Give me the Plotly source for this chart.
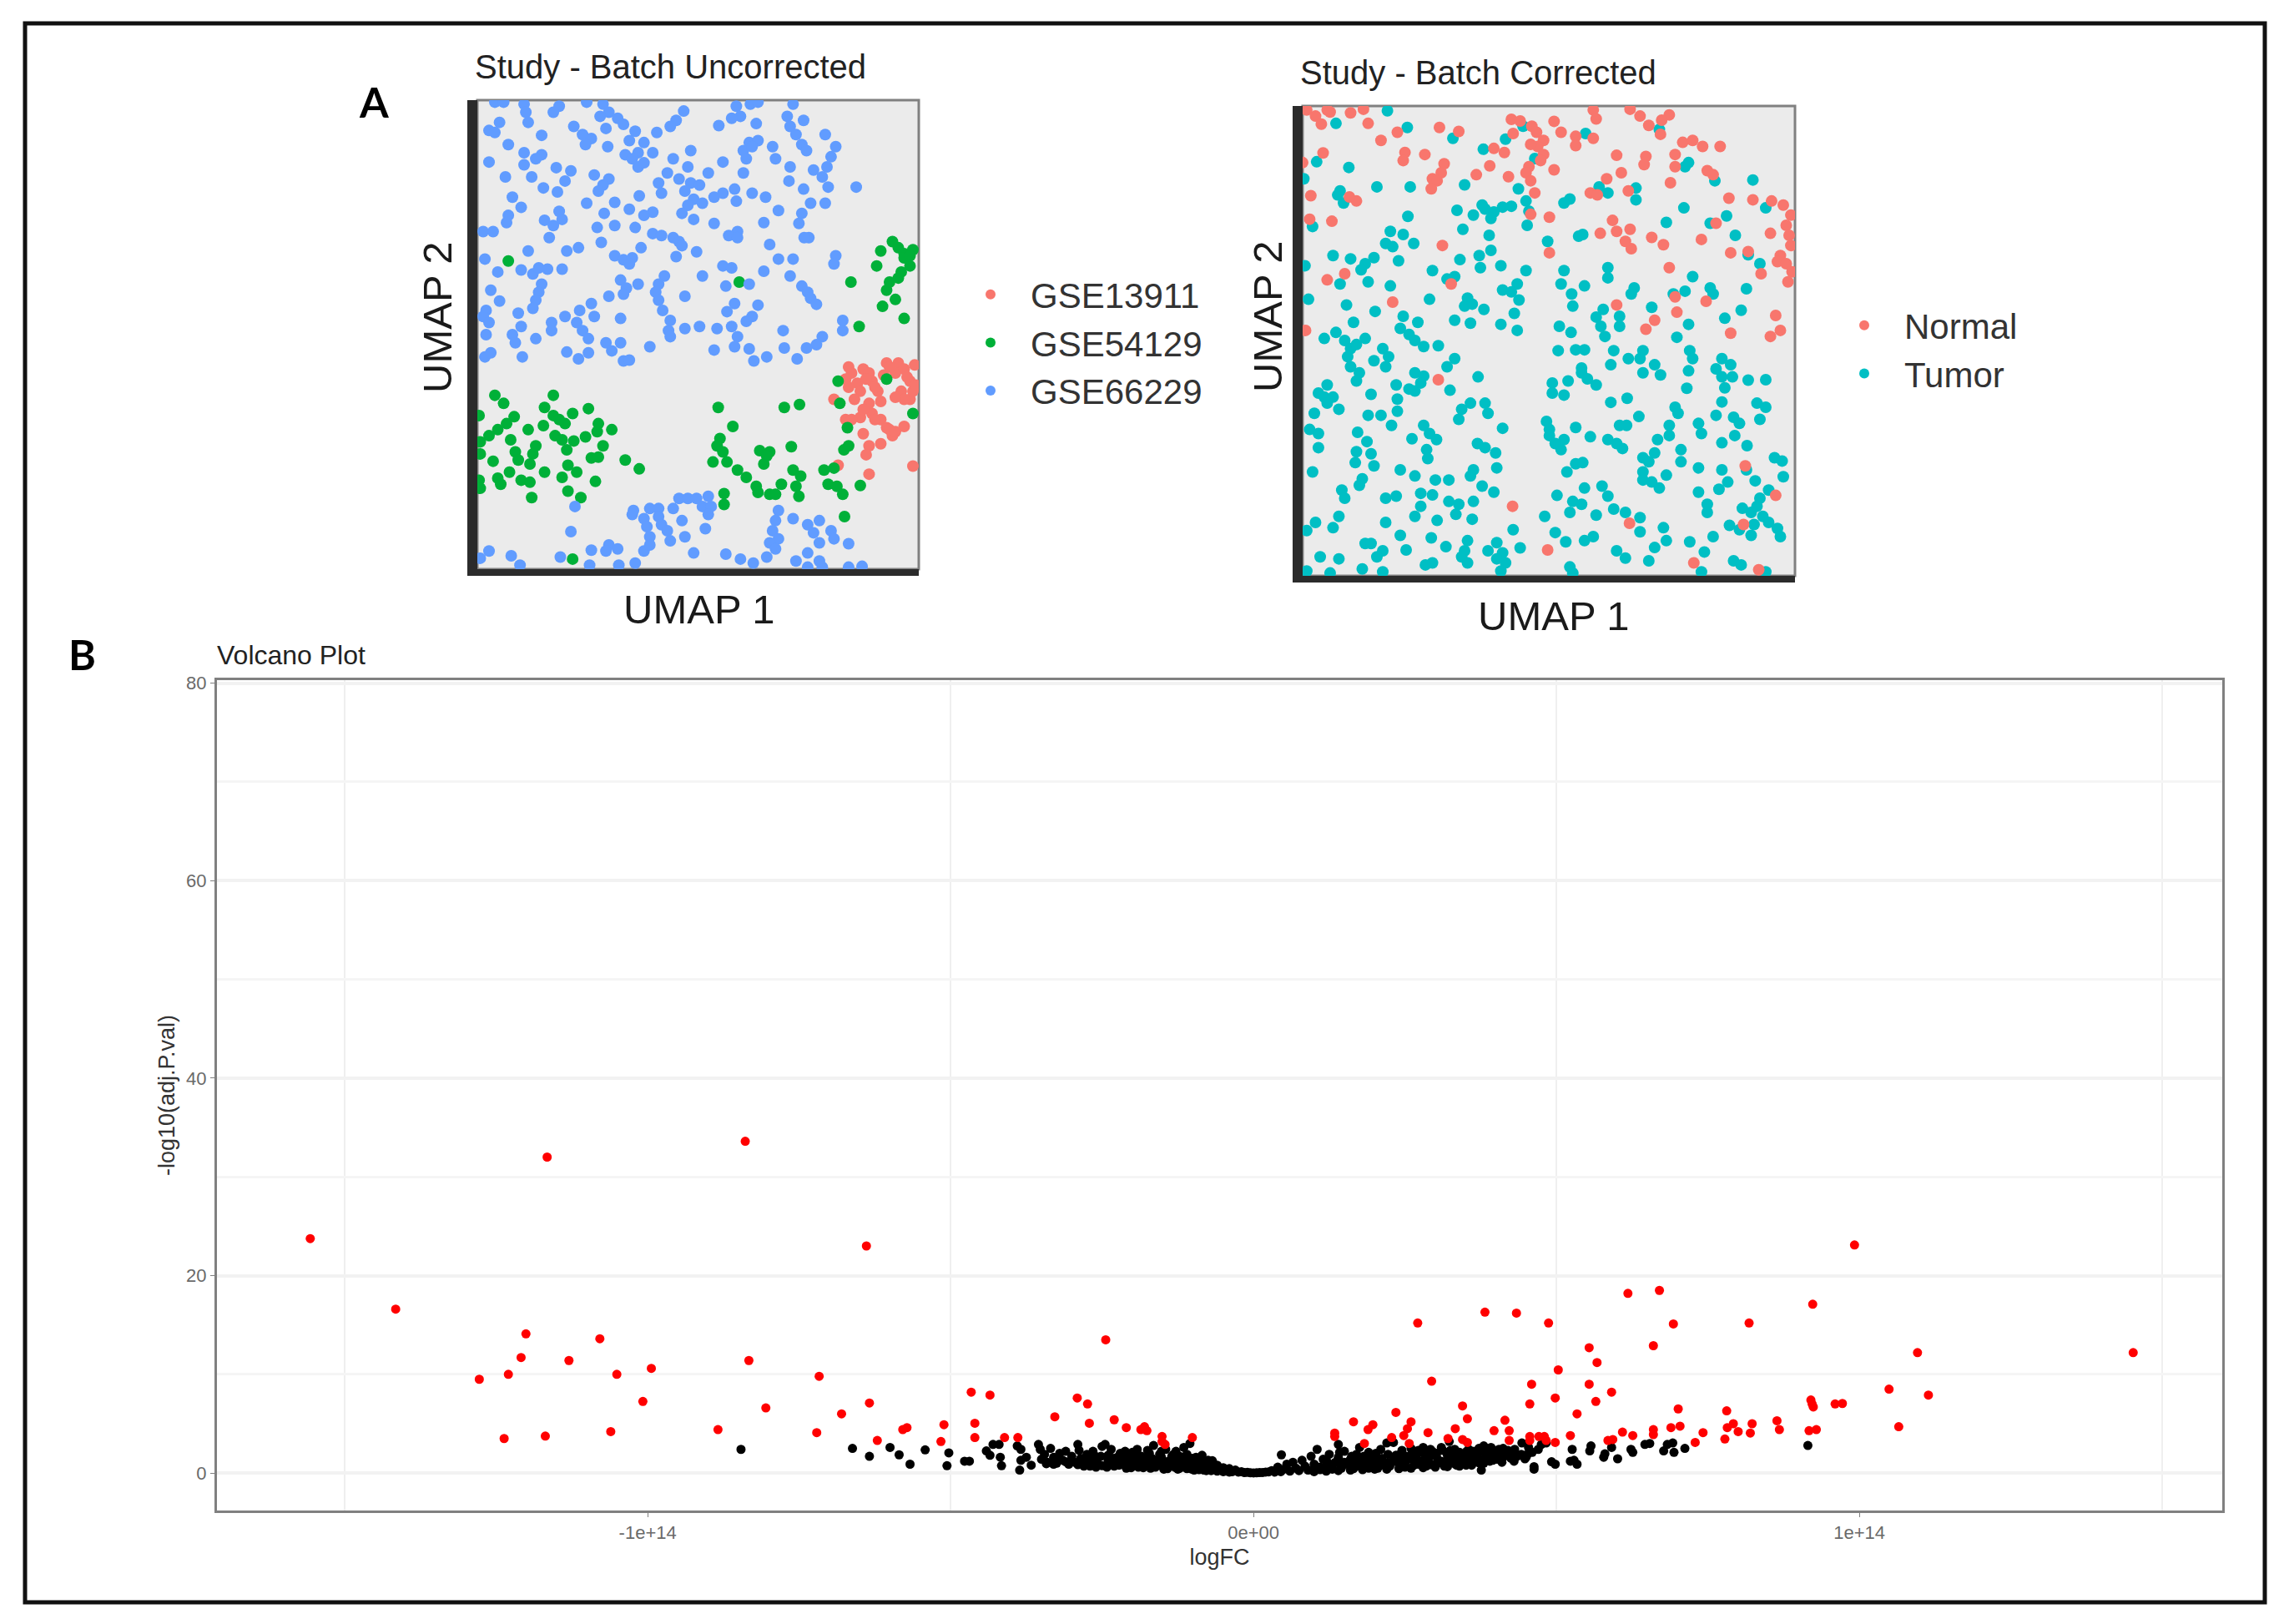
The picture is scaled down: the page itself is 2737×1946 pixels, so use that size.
import plotly.graph_objects as go

W, H = 2737, 1946

gse66229 = [(275,190),(290,190),(325,195),(328,215),(332,240),(385,200),(375,215),(432,190),(460,195),(470,215),(455,225),(485,230),(495,245),(465,255),(598,212),(585,235),(575,250),(552,265),(515,262),(505,285),(688,200),(712,195),(695,225),(680,230),(725,190),(722,243),(658,248),(785,195),(775,225),(803,235),(780,250),(790,270),(800,295),(808,310),(840,270),(858,300),(850,325),(843,350),(820,358),(835,375),(845,400),(893,400),(803,405),(815,440),(840,440),(800,465),(795,490),(812,525),(804,525),
(265,260),(283,240),(275,265),(355,272),(298,295),(410,250),(425,270),(440,280),(430,295),(468,300),(530,290),(520,315),(498,320),(510,330),(520,350),(530,340),(545,315),(610,310),(580,330),(605,350),(665,338),(700,310),(710,290),(725,285),(715,300),(705,330),(700,365),(750,300),(755,330),(780,350),(778,385),(265,338),(325,315),(355,320),(345,330),(325,345),(380,352),(405,360),(395,385),(293,375),(338,375),(358,402),(382,412),(445,370),(470,380),(460,395),(452,410),(570,365),(590,380),(555,390),(560,415),(640,365),(610,390),(625,395),(600,410),(615,430),(605,445),(630,440),(650,425),(665,415),(685,405),(688,435),(715,415),(738,425),(305,425),(320,450),(432,440),(480,438),(522,422),(505,455),(462,465),(545,462),(530,470),(595,465),(615,480),(650,490),(735,488),(760,458),(298,470),(295,488),(385,460),(390,480),(360,482),(375,495),(450,500),(480,495),(515,500),(690,510),(675,520),(690,525),(255,510),(272,510),(368,525),(545,515),(560,520),(580,525),(590,535),(457,537),(525,550),(595,545),(745,542),(858,570),(855,590),(332,558),(398,558),(418,550),(258,578),(480,570),(495,580),(510,575),(505,590),(585,572),(620,560),(760,578),(785,578),(320,605),(280,610),(340,615),(350,600),(365,603),(390,603),(665,595),(680,600),(735,608),(565,620),(630,620),(555,640),(490,630),(520,640),(500,650),(780,620),(800,645),(810,660),(815,675),(825,690),(355,640),(350,660),(345,680),(340,700),(268,655),(283,682),(260,705),(255,720),(265,735),(315,712),(320,745),(470,670),(495,665),(550,660),(555,680),(600,670),(710,640),(670,645),(725,692),(685,688),(672,708),(715,720),(705,732),(440,688),(420,705),(395,720),(445,720),(490,725),(562,705),(575,730),(572,755),(600,750),(625,745),(575,770),(655,750),(680,745),(690,770),(415,735),(425,755),(435,775),(372,735),(372,755),(345,775),(305,765),(310,785),(260,765),(768,755),(870,730),(870,755),(835,770),(825,790),(465,785),(490,785),(475,805),(540,795),(650,803),(685,795),(710,800),(770,798),(808,798),(740,820),(718,830),(792,825),(398,808),(435,810),(418,825),(495,830),(505,828),(322,820),(258,820),(268,810),
(412,1190),(512,1200),(540,1195),(555,1195),(590,1170),(605,1170),(620,1170),(640,1165),(630,1190),(645,1190),(640,1210),(635,1245),(530,1220),(535,1240),(540,1265),(555,1215),(560,1235),(570,1250),(575,1275),(595,1225),(600,1265),(510,1210),(580,1195),(405,1252),(265,1300),(250,1318),(303,1312),(318,1335),(387,1315),(440,1298),(470,1285),(465,1300),(485,1295),(437,1335),(487,1335),(515,1330),(530,1300),(540,1285),(615,1305),(670,1308),(695,1320),(717,1330),(740,1315),(760,1200),(755,1225),(750,1250),(760,1270),(745,1280),(755,1295),(785,1220),(810,1235),(830,1225),(820,1255),(850,1250),(830,1280),(855,1270),(880,1282),(810,1305),(790,1325),(830,1325),(810,1340),(835,1340),(880,1340),(903,1338)]

gse54129 = [(275,915),(290,935),(375,915),(360,945),(375,965),(408,960),(435,948),(248,965),(308,968),(295,985),(395,985),(385,975),(280,1000),(332,1000),(358,990),(265,1015),(250,1030),(378,1015),(452,985),(475,1000),(450,1005),(430,1018),(410,1028),(390,1025),(302,1025),(345,1040),(398,1050),(460,1040),(310,1055),(340,1060),(250,1060),(315,1075),(272,1078),(335,1085),(440,1070),(452,1068),(400,1088),(498,1075),(522,1097),(360,1105),(300,1105),(415,1105),(390,1118),(320,1125),(280,1120),(335,1130),(248,1125),(447,1128),(285,1135),(400,1152),(422,1168),(338,1168),(250,1145),
(657,945),(682,992),(660,1022),(655,1040),(665,1055),(648,1080),(672,1080),(690,1100),(705,1118),(722,1140),(725,1155),(745,1160),(765,1135),(755,1160),(770,945),(796,938),(728,1052),(745,1055),(735,1085),(740,1065),(782,1042),(785,1100),(798,1115),(790,1140),(795,1165),(667,1158),(667,1185),(838,1100),(855,1095),(845,1135),(860,1140),(870,1160),(873,1215),(900,1138),(880,1040),(872,1050),(878,995),(865,935),(862,880),(945,875),(990,960),(898,745),(975,725),(938,695),(960,678),(945,655),(965,625),(950,635),(884,635),(928,595),(935,558),(955,535),(965,550),(975,565),(990,555),(985,595),(970,610),(975,575),(985,570),(298,583),(693,635),(408,1320)]

gse13911 = [(880,845),(905,850),(875,875),(895,885),(915,860),(945,835),(965,835),(993,840),(960,860),(940,865),(985,880),(920,880),(900,905),(930,905),(970,905),(985,925),(890,925),(915,935),(855,925),(935,930),(990,905),(975,925),(920,960),(935,975),(900,970),(875,975),(885,975),(975,992),(945,995),(925,975),(905,1010),(955,1015),(935,1035),(915,1040),(910,1062),(862,1088),(990,1090),(915,1110),(950,1000),(960,1005),(885,860),(910,875),(925,895),(950,845),(975,850),(980,870),(995,890),(960,920),(905,950),(880,895)]

normal = [(165,210),(180,225),(190,245),(200,210),(205,215),(240,217),(262,208),(270,243),(292,285),(320,265),(392,253),(425,263),(333,315),(330,335),(193,316),(158,340),(367,320),(400,343),(395,365),(380,380),(388,385),(378,405),(455,370),(478,348),(515,233),(530,237),(550,250),(558,265),(570,285),(560,300),(548,295),(570,320),(565,335),(518,268),(485,305),(503,315),(545,350),(540,365),(510,375),(548,385),(555,415),(588,358),(588,238),(600,265),(625,275),(625,298),(655,280),(655,210),(660,232),(718,208),(735,225),(750,248),(770,270),(785,222),(772,235),(695,322),(703,365),(745,325),(742,345),(795,320),(795,350),(678,380),(787,390),(650,415),(662,420),(715,410),(808,290),(825,285),(842,300),(872,300),(850,360),(860,370),(250,435),(238,425),(172,422),(170,480),(208,485),(887,428),(928,432),(960,435),(980,445),(993,470),(985,495),(990,520),(958,515),(993,545),(975,570),(970,585),(985,590),(995,610),(988,635),(942,615),(890,563),(920,560),(840,530),(865,490),(775,543),(755,525),(720,553),(710,535),(695,510),(688,483),(718,505),(667,515),(580,475),(548,468),(580,563),(397,545),(785,600),(230,615),(200,630),(412,640),(795,672),(848,683),(695,692),(798,710),(760,730),(745,752),(890,762),(967,718),(975,755),(958,770),(163,755),(312,685),(390,877),(915,1090),(967,1163),(517,1190),(717,1232),(912,1235),(577,1298),(827,1330),(938,1347)]

tumor = [(303,212),(215,243),(337,253),(415,280),(467,307),(182,338),(237,352),(160,380),(505,282),(535,250),(642,268),(555,330),(285,400),(342,400),(435,395),(527,405),(222,410),(228,440),(218,420),(768,258),(818,340),(812,350),(863,385),(928,383),(665,400),(680,415),(728,403),(728,432),(540,435),(615,430),(605,440),(422,458),(515,448),(500,450),(485,462),(470,455),(465,445),(450,470),(480,478),(545,460),(542,495),(810,452),(950,452),(883,472),(338,473),(175,498),(432,505),(855,490),(780,488),(898,520),(308,510),(330,518),(477,520),(630,522),(637,518),(577,535),(300,540),(312,548),(348,540),(210,570),(240,578),(280,575),(265,590),(258,605),(322,583),(480,557),(460,570),(427,580),(462,600),(497,595),(162,595),(380,607),(540,607),(605,607),(680,600),(680,625),(825,622),(920,568),(940,590),(222,640),(270,635),(308,645),(405,628),(418,622),(600,640),(525,640),(640,645),(855,650),(860,665),(917,652),(812,658),(792,665),(725,650),(720,665),(500,655),(515,660),(528,680),(618,665),(620,695),(168,678),(375,678),(440,675),(435,695),(448,690),(468,703),(233,692),(282,708),(755,698),(672,703),(660,722),(908,705),(880,725),(330,720),(700,720),(520,713),(668,745),(700,745),(418,730),(445,737),(245,735),(325,750),(355,735),(497,740),(597,745),(525,755),(818,740),(675,770),(617,760),(195,775),(215,760),(265,775),(340,765),(350,780),(365,795),(390,793),(798,772),(230,780),(240,800),(250,790),(235,820),(595,805),(625,803),(640,803),(295,800),(305,820),(280,830),(690,805),(740,805),(820,805),(825,825),(418,825),(405,845),(300,845),(240,845),(735,825),(715,825),(685,840),(635,848),(760,840),(875,825),(890,840),(865,850),(255,860),(250,880),(350,860),(365,868),(818,855),(635,860),(770,865),(740,860),(875,870),(458,870),(645,875),(660,890),(893,870),(920,878),(950,877),(612,880),(585,885),(318,890),(410,903),(585,910),(605,915),(350,905),(340,900),(360,885),(815,898),(880,897),(200,890),(185,910),(195,920),(210,920),(200,935),(275,913),(320,925),(685,933),(713,923),(875,932),(220,950),(178,960),(320,955),(430,950),(445,935),(470,935),(475,960),(270,965),(292,965),(425,975),(795,945),(800,960),(935,935),(950,945),(835,985),(865,965),(895,970),(905,985),(940,975),(575,980),(580,1000),(733,968),(700,990),(712,990),(310,990),(170,1000),(185,1010),(625,995),(500,997),(840,1010),(785,990),(785,1015),(252,1007),(365,990),(375,1010),(387,1025),(345,1023),(268,1030),(650,1018),(580,1015),(605,1025),(590,1035),(680,1025),(695,1035),(705,1047),(897,1015),(875,1033),(765,1025),(600,1050),(185,1045),(918,1040),(457,1035),(470,1045),(488,1058),(370,1050),(372,1072),(250,1055),(275,1060),(248,1082),(280,1090),(805,1050),(805,1080),(760,1058),(740,1070),(750,1080),(965,1070),(978,1078),(625,1085),(637,1082),(175,1105),(325,1100),(350,1115),(450,1100),(445,1115),(490,1095),(835,1095),(875,1100),(610,1105),(740,1105),(780,1113),(917,1100),(980,1117),(260,1122),(255,1138),(385,1125),(408,1125),(740,1125),(755,1130),(768,1145),(932,1127),(885,1130),(870,1148),(465,1140),(225,1150),(230,1170),(485,1155),(640,1145),(670,1140),(835,1155),(955,1150),(300,1170),(318,1165),(360,1158),(380,1162),(593,1163),(680,1165),(940,1170),(850,1185),(850,1205),(620,1178),(635,1185),(408,1178),(425,1185),(450,1178),(360,1190),(350,1215),(690,1197),(710,1205),(910,1195),(925,1205),(935,1190),(945,1215),(955,1230),(930,1235),(615,1205),(660,1212),(420,1210),(388,1225),(448,1222),(220,1215),(300,1230),(572,1215),(735,1218),(180,1230),(165,1250),(210,1243),(888,1237),(970,1245),(975,1265),(518,1248),(590,1255),(775,1243),(735,1253),(860,1265),(905,1248),(925,1262),(325,1262),(378,1268),(655,1265),(640,1275),(608,1278),(820,1278),(780,1275),(760,1292),(265,1282),(275,1282),(295,1300),(285,1315),(403,1290),(440,1275),(435,1300),(430,1315),(440,1330),(530,1293),(490,1280),(475,1300),(500,1305),(490,1320),(505,1330),(845,1303),(695,1300),(710,1318),(335,1298),(188,1315),(220,1320),(750,1325),(380,1330),(368,1335),(260,1345),(165,1350),(205,1355),(295,1352),(497,1350),(615,1340),(620,1355),(895,1325),(908,1335),(840,1352),(950,1352)]

# logFC in units of 1e14, -log10(adj.P.val)
significant = [(-1.557,23.75),(-1.416,16.6),(-1.166,32.0),(-0.839,33.6),(-0.639,23.0),(-1.201,14.1),(-1.079,13.6),(-1.209,11.7),(-1.130,11.4),(-0.833,11.4),(-0.244,13.5),(-1.278,9.5),(-1.230,10.0),(-1.051,10.0),(-0.994,10.6),(-0.717,9.8),(-1.008,7.25),(-0.805,6.6),(-0.634,7.1),(-0.680,6.0),(-0.466,8.2),(-0.435,7.9),(-1.237,3.5),(-1.169,3.75),(-1.061,4.2),(-0.884,4.4),(-0.721,4.1),(-0.621,3.3),(-0.579,4.4),(-0.572,4.6),(-0.511,4.9),(-0.516,3.2),(-0.460,5.05),(-0.460,3.6),(-0.411,3.6),(-0.389,3.6),(-0.328,5.7),(-0.291,7.6),(-0.274,7.0),(-0.271,5.05),(-0.230,5.4),(-0.210,4.6),(-0.186,4.4),(-0.180,4.7),(-0.176,4.3),(-0.151,3.7),(-0.151,3.2),(-0.146,2.9),(-0.101,3.6),
(0.992,23.1),(1.452,12.2),(0.618,18.2),(0.670,18.5),(0.923,17.1),(0.382,16.3),(0.434,16.2),(0.271,15.2),(0.487,15.2),(0.693,15.1),(0.818,15.2),(0.660,12.9),(0.554,12.7),(1.096,12.2),(0.567,11.2),(0.503,10.45),(0.294,9.3),(0.459,9.0),(0.554,9.0),(0.591,8.2),(1.049,8.5),(1.114,7.9),(0.498,7.6),(0.565,7.25),(0.456,7.0),(0.345,6.8),(0.701,6.5),(0.781,6.3),(0.235,6.15),(0.534,6.0),(0.920,7.4),(0.922,7.0),(0.924,6.7),(0.960,7.0),(0.972,7.05),(0.165,5.2),(0.197,4.9),(0.189,4.4),(0.260,5.2),(0.254,4.5),(0.248,3.8),(0.353,5.5),(0.415,5.35),(0.333,4.5),(0.288,4.1),(0.134,4.05),(0.134,3.7),(0.183,3.0),(0.228,3.6),(0.257,3.0),(0.321,3.5),(0.345,3.4),(0.353,3.1),(0.397,4.3),(0.422,4.3),(0.422,3.3),(0.456,3.7),(0.456,3.3),(0.471,3.7),(0.480,3.7),(0.483,3.3),(0.498,3.1),(0.523,3.8),(0.585,3.3),(0.593,3.4),(0.609,4.15),(0.626,3.8),(0.660,4.4),(0.660,3.9),(0.689,4.6),(0.704,4.75),(0.729,3.1),(0.742,4.1),(0.778,3.45),(0.782,4.6),(0.792,5.0),(0.800,4.2),(0.823,5.0),(0.820,4.05),(0.864,5.3),(0.868,4.4),(0.917,4.3),(0.929,4.4),(1.065,4.7)]

not_significant = [(-0.846,2.4),(-0.662,2.5),(-0.634,1.7),(-0.600,2.6),(-0.585,1.85),(-0.567,0.9),(-0.542,2.35),(-0.503,2.05),(-0.506,0.75),(-0.477,1.2),(-0.469,1.2),(-0.441,2.25),(-0.430,2.9),(-0.420,2.9),(-0.435,1.8),(-0.418,1.6),(-0.416,0.75),(-0.390,2.75),(-0.384,2.4),(-0.384,1.3),(-0.386,0.3),(-0.367,0.8),(-0.375,1.6),
(-.355,2.9),(-.352,2.4),(-.345,1.9),(-.35,1.4),(-.34,1.1),(-.335,2.5),(-.33,1.6),(-.325,1.0),(-.32,2.0),(-.315,1.3),(-.31,2.2),(-.305,.9),(-.3,1.7),(-.295,1.1),(-.29,2.9),(-.288,2.3),(-.285,1.5),(-.28,.7),(-.275,1.9),(-.27,1.0),(-.265,2.2),(-.26,.6),(-.258,1.4),(-.25,2.7),(-.245,2.9),(-.24,1.8),(-.238,1.0),(-.235,2.4),(-.23,.7),(-.225,1.6),(-.22,2.0),(-.215,1.2),(-.21,.5),(-.205,1.8),(-.2,2.1),(-.198,.9),(-.195,1.4),(-.19,.6),(-.185,1.7),(-.18,1.1),(-.175,2.3),(-.17,.5),(-.168,1.5),(-.165,2.8),(-.16,.9),(-.155,1.9),(-.15,1.3),(-.148,.4),(-.145,2.4),(-.14,.8),(-.135,1.7),(-.13,1.1),(-.128,2.2),(-.125,.4),(-.12,1.4),(-.115,2.6),(-.112,.7),(-.11,1.9),(-.105,3.0),(-.1,1.1),(-.098,.3),(-.095,1.6),(-.09,.6),(-.085,1.8),(-.08,.9),(-.078,.25),(-.075,1.3),(-.07,.5),(-.068,1.25),(-.06,.8),(-.055,.3),(-.05,.55),(-.045,.2),(-.04,.45),(-.035,.15),(-.03,.3),(-.025,.1),(-.02,.15),(-.015,.05),(-.01,.08),(-.005,.03),(0,.02),(.005,.03),(.01,.05),(.015,.06),(.02,.1),
(-.33,.9),(-.31,1.15),(-.29,.85),(-.27,.7),(-.25,.75),(-.23,1.1),(-.21,.85),(-.19,.95),(-.17,.85),(-.15,.65),(-.13,.6),(-.11,.45),(-.09,.35),(-.07,.25),(-.3,1.3),(-.28,1.2),(-.26,1.0),(-.24,1.3),(-.22,1.4),(-.2,1.2),(-.18,1.4),(-.16,1.3),(-.14,1.2),(-.12,.9),(-.1,.7),(-.08,.5),(-.06,.2),(-.05,.15),(-.04,.1),
(-.342,.95),(-.322,1.5),(-.302,1.2),(-.282,.95),(-.262,1.3),(-.242,.6),(-.222,.8),(-.202,.55),(-.182,.55),(-.162,.6),(-.142,.45),(-.122,.5),(-.102,.4),(-.082,.3),(-.062,.4),(-.272,1.5),(-.252,1.7),(-.232,1.5),(-.212,1.6),(-.192,1.9),(-.172,1.7),(-.152,1.6),(-.132,1.45),(-.112,1.3),(-.092,1.1),(-.072,.8),(-.212,2.2),(-.192,2.4),(-.172,2.0),(-.152,2.2),(-.132,1.9),(-.122,1.7),(-.102,1.5),(-.088,1.3),(-.262,1.75),(-.232,.95),(-.212,1.0),(-.192,.75),(-.172,1.05),(-.152,1.0),(-.132,.85),(-.112,.95),(-.092,.75),(-.075,.6),
(.025,.12),(.03,.25),(.035,.1),(.04,.6),(.045,.15),(.046,1.85),(.05,.4),(.055,.9),(.06,.2),(.065,1.1),(.07,.5),(.075,.25),(.08,1.3),(.085,.7),(.09,.3),(.095,1.7),(.1,.9),(.105,2.4),(.11,.35),(.115,1.4),(.12,.7),(.125,1.9),(.13,.4),(.135,1.1),(.14,2.9),(.14,1.6),(.145,.5),(.15,2.2),(.155,.9),(.16,1.4),(.165,.45),(.17,1.9),(.175,2.6),(.18,.6),(.185,1.2),(.19,2.1),(.195,.8),(.2,1.6),(.205,.5),(.21,2.4),(.215,1.1),(.22,3.05),(.225,.7),(.231,3.1),(.235,1.8),(.24,.9),(.245,2.3),(.25,.6),(.255,1.4),(.26,2.5),(.265,.8),(.27,1.9),(.275,1.1),(.28,2.6),(.285,.7),(.29,1.6),(.295,2.2),(.3,.9),(.305,1.3),(.31,2.6),(.315,.7),(.32,1.8),(.323,3.2),(.325,2.3),(.33,1.0),(.335,.8),(.34,2.1),(.345,1.5),(.35,.9),(.351,.8),(.355,2.4),(.36,1.2),(.365,1.7),(.37,2.0),(.374,1.0),(.376,.3),(.38,2.75),(.385,1.5),(.39,2.2),(.395,1.3),(.4,1.8),(.405,2.4),(.41,1.4),(.415,1.9),(.42,2.3),(.425,1.5),(.431,2.4),(.435,1.7),(.443,3.05),(.448,1.45),(.454,2.6),(.46,2.1),(.463,.4),(.463,.65),(.47,2.4),(.475,2.9),(.483,3.05),(.492,1.15),(.498,.9),
(.1,.15),(.12,.2),(.14,.25),(.16,.3),(.18,.35),(.2,.4),(.22,.4),(.24,.45),(.26,.5),(.28,.55),(.3,.6),(.32,.65),(.34,.7),(.36,.8),(.38,1.0),(.11,.6),(.13,.8),(.15,1.1),(.17,.7),(.19,.5),(.21,.8),(.23,1.2),(.25,1.0),(.27,1.3),(.29,1.0),(.31,1.2),(.33,1.4),(.35,1.2),(.37,1.1),(.39,1.2),(.41,1.1),(.43,1.2),(.45,1.6),
(.122,1.1),(.142,1.0),(.162,.9),(.172,1.2),(.182,.9),(.192,1.5),(.202,1.0),(.212,1.5),(.222,1.0),(.232,1.5),(.242,1.2),(.252,1.7),(.262,1.5),(.272,.9),(.282,1.4),(.292,.85),(.302,1.65),(.312,1.0),(.322,1.15),(.332,1.7),(.342,1.15),(.352,1.6),(.362,1.5),(.372,1.4),(.382,1.3),(.392,1.7),(.402,1.4),(.412,1.7),(.422,1.7),(.432,1.9),(.442,1.9),(.452,1.9),(.262,2.0),(.282,2.0),(.302,2.0),(.322,2.1),(.342,1.8),(.362,2.2),(.382,2.0),(.402,2.1),(.222,1.9),(.202,2.0),(.182,1.7),(.162,1.7),(.142,2.1),(.242,1.9),(.272,2.3),(.292,2.4),(.312,2.3),(.332,2.4),(.352,2.2),(.372,2.5),(.392,2.6),(.412,2.5),
(.526,2.4),(.529,1.3),(.534,.9),(.523,1.2),(.557,2.75),(.555,2.25),(.601,1.45),(.591,2.6),(.58,1.95),(.578,1.6),(.623,2.4),(.626,2.1),(.646,2.9),(.654,3.0),(.677,2.25),(.683,2.9),(.692,3.05),(.694,2.1),(.712,2.5),(.915,2.8)]

x_ticks = [-1, 0, 1]
x_tick_labels = ["-1e+14", "0e+00", "1e+14"]
x_grid = [-1.5, -0.5, 0.5, 1.5]
y_ticks = [0, 20, 40, 60, 80]


def xs(pairs):
    return [p[0] for p in pairs]


def ys(pairs):
    return [p[1] for p in pairs]


def fx(px):
    return px / W


def fy(py):
    return 1 - py / H


SANS = "Liberation Sans"
fig = go.Figure()


def dots(pairs, name, color, xa, ya, size, legend=None):
    fig.add_trace(go.Scatter(
        x=xs(pairs), y=ys(pairs), mode="markers", name=name,
        marker=dict(color=color, size=size, line=dict(width=0)),
        xaxis=xa, yaxis=ya,
        legend=legend or "legend", showlegend=legend is not None,
    ))


dots(gse13911, "GSE13911", "#F8766D", "x", "y", 14, "legend")
dots(gse54129, "GSE54129", "#00B038", "x", "y", 14, "legend")
dots(gse66229, "GSE66229", "#619CFF", "x", "y", 14, "legend")
dots(tumor, "Tumor", "#00BFC4", "x2", "y2", 14, "legend2")
dots(normal, "Normal", "#F8766D", "x2", "y2", 14, "legend2")
dots(not_significant, "Not significant", "#000000", "x3", "y3", 11)
dots(significant, "Significant", "#FF0000", "x3", "y3", 11)

umap_axis = dict(showticklabels=False, showgrid=False, zeroline=False, ticks="",
                 showline=True, linecolor="#2b2b2b")


def label(text, x, y, size, color="#222222", family=SANS, anchor="center", angle=0):
    return dict(text=text, xref="paper", yref="paper", x=fx(x), y=fy(y), xanchor=anchor,
                yanchor="middle", showarrow=False, textangle=angle,
                font=dict(family=family, size=size, color=color))


fig.update_layout(
    width=W, height=H, margin=dict(l=0, r=0, t=0, b=0, autoexpand=False),
    paper_bgcolor="white", plot_bgcolor="white",
    font=dict(family=SANS, color="#333333"),
    xaxis=dict(umap_axis, domain=[fx(572), fx(1101)], range=[245, 1000], linewidth=8),
    yaxis=dict(umap_axis, domain=[fy(682), fy(120)], range=[1345, 185], linewidth=12),
    xaxis2=dict(umap_axis, domain=[fx(1561), fx(2151)], range=[158, 1000], linewidth=8, anchor="y2"),
    yaxis2=dict(umap_axis, domain=[fy(690), fy(127)], range=[1362, 200], linewidth=12, anchor="x2"),
    xaxis3=dict(domain=[fx(260), fx(2663)], range=[-1.711, 1.599], anchor="y3",
                tickvals=x_ticks, ticktext=x_tick_labels, ticks="outside", ticklen=5,
                tickcolor="#7f7f7f", tickfont=dict(size=22, color="#6a6a6a"),
                showgrid=False, zeroline=False, showline=True, mirror=True,
                linecolor="#808080", linewidth=3,
                minor=dict(tickvals=x_grid, showgrid=True, gridcolor="#EFEFEF", gridwidth=2, ticks=""),
                title=dict(text="logFC", font=dict(size=27, color="#333333"), standoff=8)),
    yaxis3=dict(domain=[fy(1810), fy(815)], range=[-3.79, 80.3], anchor="x3",
                tickvals=y_ticks, ticks="outside", ticklen=5,
                tickcolor="#7f7f7f", tickfont=dict(size=22, color="#6a6a6a"),
                showgrid=True, gridcolor="#F2F2F2", gridwidth=4, zeroline=False,
                showline=True, mirror=True, linecolor="#808080", linewidth=3,
                minor=dict(dtick=10, showgrid=True, gridcolor="#F5F5F5", gridwidth=3, ticks=""),
                title=dict(text="-log10(adj.P.val)", font=dict(size=27, color="#333333"), standoff=6)),
    legend=dict(x=fx(1139), y=fy(319), xanchor="left", yanchor="top", bgcolor="rgba(0,0,0,0)",
                font=dict(size=42, color="#333333"), itemsizing="constant", itemwidth=86,
                traceorder="normal"),
    legend2=dict(x=fx(2186), y=fy(356), xanchor="left", yanchor="top", bgcolor="rgba(0,0,0,0)",
                 font=dict(size=42, color="#333333"), itemsizing="constant", itemwidth=86,
                 traceorder="reversed"),
    shapes=[
        dict(type="rect", xref="x domain", yref="y domain", x0=0, x1=1, y0=0, y1=1,
             fillcolor="#EBEBEB", line=dict(color="#808080", width=3), layer="below"),
        dict(type="rect", xref="x2 domain", yref="y2 domain", x0=0, x1=1, y0=0, y1=1,
             fillcolor="#EBEBEB", line=dict(color="#808080", width=3), layer="below"),
        dict(type="rect", xref="paper", yref="paper", x0=fx(30), x1=fx(2714), y0=fy(1920), y1=fy(28),
             line=dict(color="#111111", width=5), layer="below"),
    ],
    annotations=[
        label("Study - Batch Uncorrected", 567, 80, 40, anchor="left"),
        label("Study - Batch Corrected", 1556, 87, 40, anchor="left"),
        label("<b>A</b>", 448, 122, 50, "#000000", "Lato"),
        label("<b>B</b>", 98, 784, 50, "#000000", "Lato"),
        label("Volcano Plot", 258, 785, 32, anchor="left"),
        label("UMAP 1", 838, 730, 49, "#1a1a1a"),
        label("UMAP 1", 1862, 738, 49, "#1a1a1a"),
        label("UMAP 2", 524, 380, 49, "#1a1a1a", angle=-90),
        label("UMAP 2", 1519, 379, 49, "#1a1a1a", angle=-90),
    ],
)

fig.write_html("out.html", config=dict(displayModeBar=False),
               post_script="document.body.style.margin='0';")
